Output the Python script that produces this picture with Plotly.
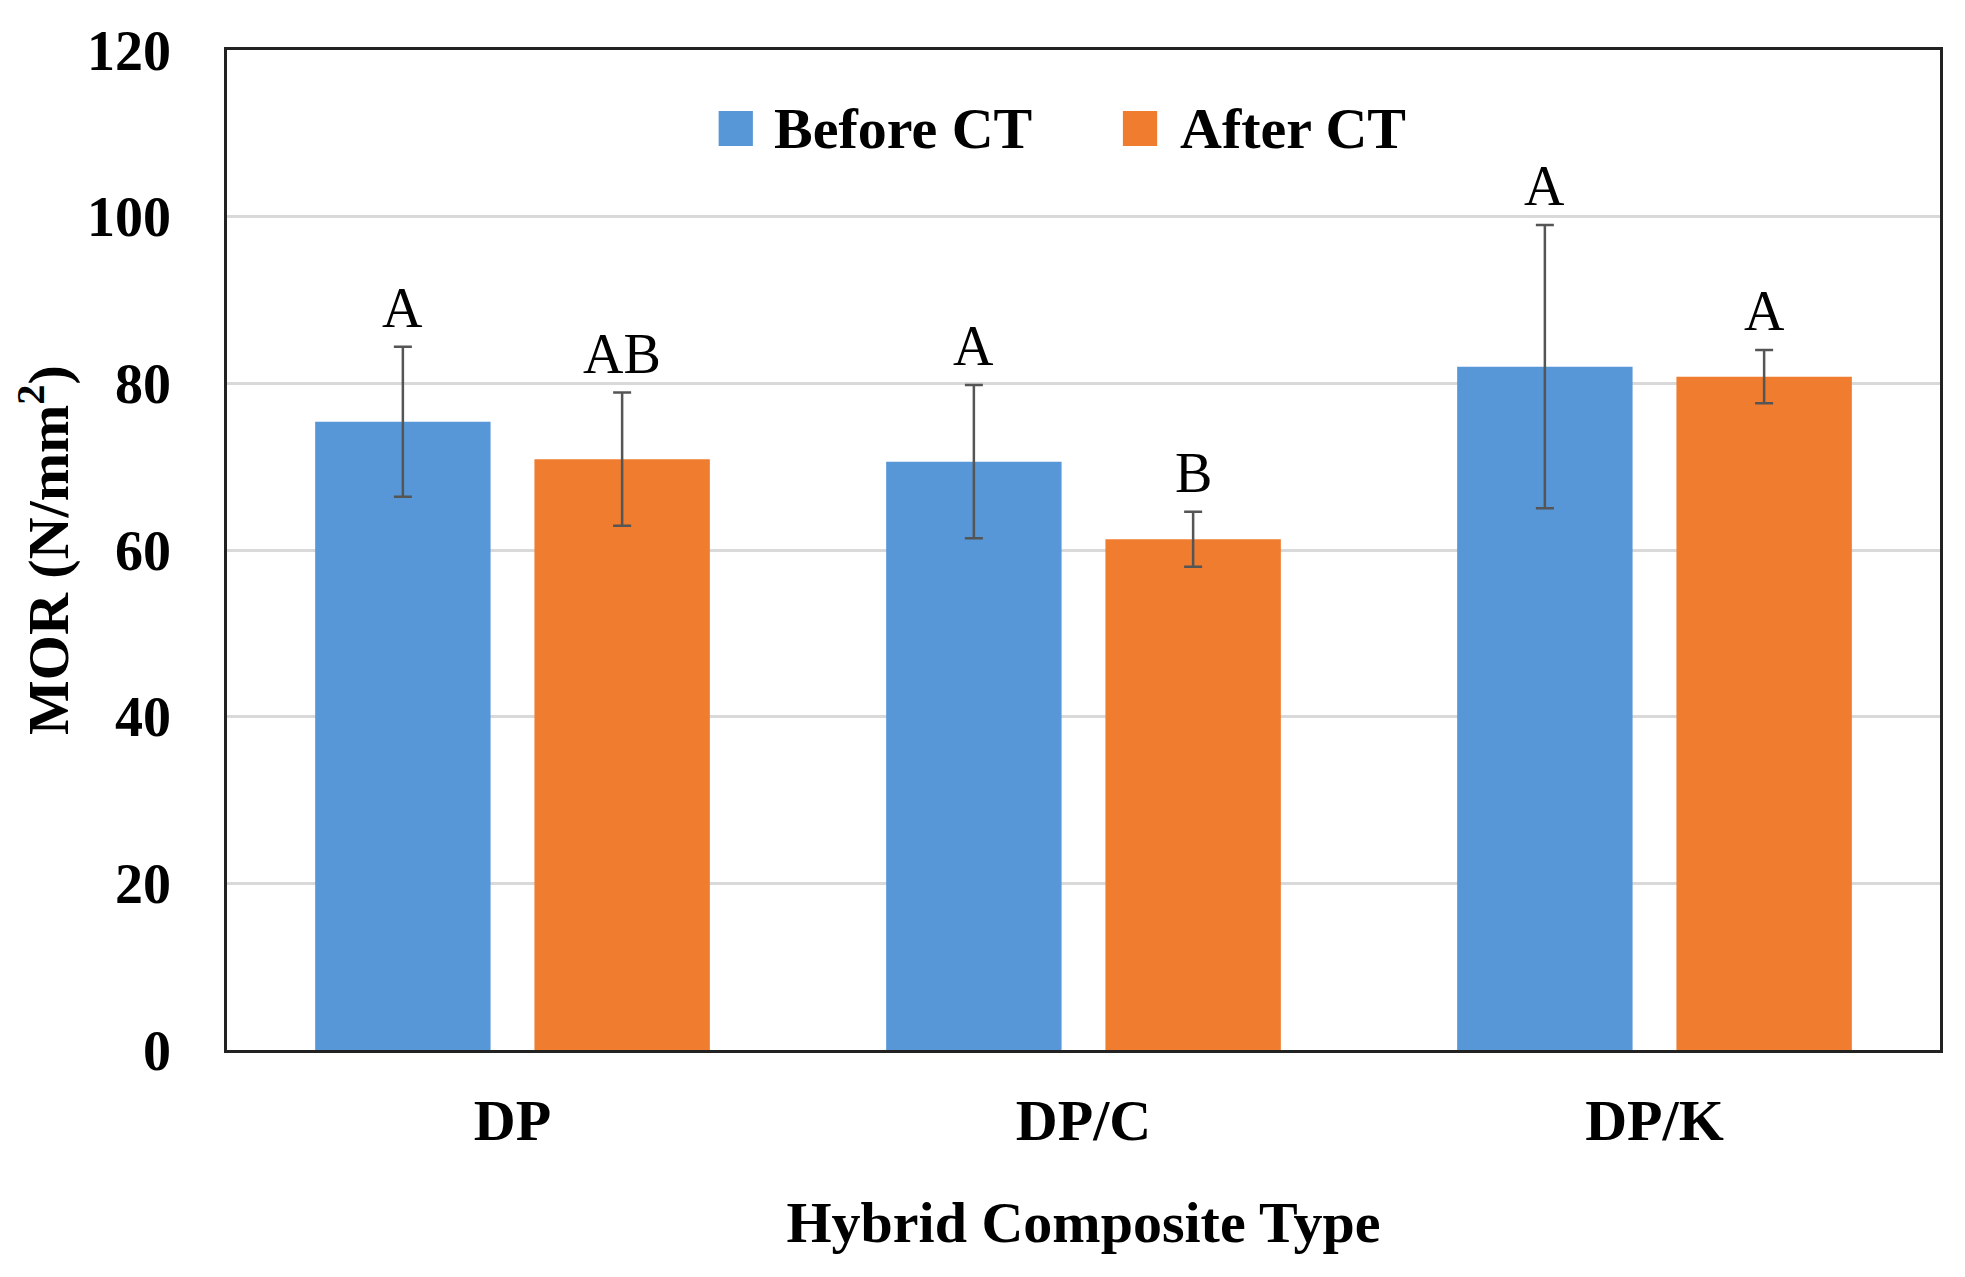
import plotly.graph_objects as go

categories = ["DP", "DP/C", "DP/K"]
before_ct = [75.4, 70.6, 82.0]
before_sd = [9.0, 9.2, 17.0]
after_ct = [70.9, 61.3, 80.8]
after_sd = [8.0, 3.3, 3.2]
before_letters = ["A", "A", "A"]
after_letters = ["AB", "B", "A"]
y_ticks = [0, 20, 40, 60, 80, 100, 120]

FONT = "Liberation Serif"
BLUE = "#5797D7"
ORANGE = "#EF7C2F"
ERR = "#555555"

fig = go.Figure()
fig.add_trace(go.Bar(
    name="Before CT", x=categories, y=before_ct,
    marker=dict(color=BLUE, line=dict(width=0)),
    error_y=dict(type="data", array=before_sd, color=ERR, thickness=2.5, width=9),
    showlegend=False,
))
fig.add_trace(go.Bar(
    name="After CT", x=categories, y=after_ct,
    marker=dict(color=ORANGE, line=dict(width=0)),
    error_y=dict(type="data", array=after_sd, color=ERR, thickness=2.5, width=9),
    showlegend=False,
))

off = 0.192
for i, cat in enumerate(categories):
    fig.add_annotation(x=i - off, y=before_ct[i] + before_sd[i], text=before_letters[i],
                       showarrow=False, yanchor="bottom", yshift=6,
                       font=dict(family=FONT, size=56, color="#000"))
    fig.add_annotation(x=i + off, y=after_ct[i] + after_sd[i], text=after_letters[i],
                       showarrow=False, yanchor="bottom", yshift=6,
                       font=dict(family=FONT, size=56, color="#000"))

# custom legend (large swatches)
legend_items = [("Before CT", BLUE, 0.287, 0.318), ("After CT", ORANGE, 0.523, 0.555)]
for label, col, sx, tx in legend_items:
    fig.add_shape(type="rect", xref="paper", yref="paper",
                  x0=sx, x1=sx + 0.020, y0=0.904, y1=0.939,
                  fillcolor=col, line=dict(width=0))
    fig.add_annotation(xref="paper", yref="paper", x=tx, y=0.9215, text="<b>%s</b>" % label,
                       showarrow=False, xanchor="left", yanchor="middle",
                       font=dict(family=FONT, size=58, color="#000"))

fig.update_layout(
    width=1965, height=1277,
    margin=dict(l=219, r=33, t=42, b=235),
    paper_bgcolor="white", plot_bgcolor="white",
    barmode="group", bargap=0.232, bargroupgap=0.2,
    font=dict(family=FONT, color="#000"),
)
fig.update_xaxes(
    automargin=False,
    showline=True, linecolor="#222", linewidth=2.5, mirror=True,
    showgrid=False, ticks="",
    tickfont=dict(family=FONT, size=58, color="#000", weight="bold"),
    ticklabelstandoff=18,
    title=dict(text="<b>Hybrid Composite Type</b>", font=dict(family=FONT, size=58, color="#000"),
               standoff=50),
)
fig.update_yaxes(
    automargin=False, ticklabeloverflow="allow",
    range=[0, 120], tickvals=y_ticks,
    showline=True, linecolor="#222", linewidth=2.5, mirror=True,
    showgrid=True, gridcolor="#D9D9D9", gridwidth=2.5,
    zeroline=False, ticks="",
    tickfont=dict(family=FONT, size=56, color="#000", weight="bold"),
    ticklabelstandoff=42,
    title=dict(text="<b>MOR (N/mm<sup>2</sup>)</b>", font=dict(family=FONT, size=58, color="#000"),
               standoff=34),
)

fig.write_html("out.html")
